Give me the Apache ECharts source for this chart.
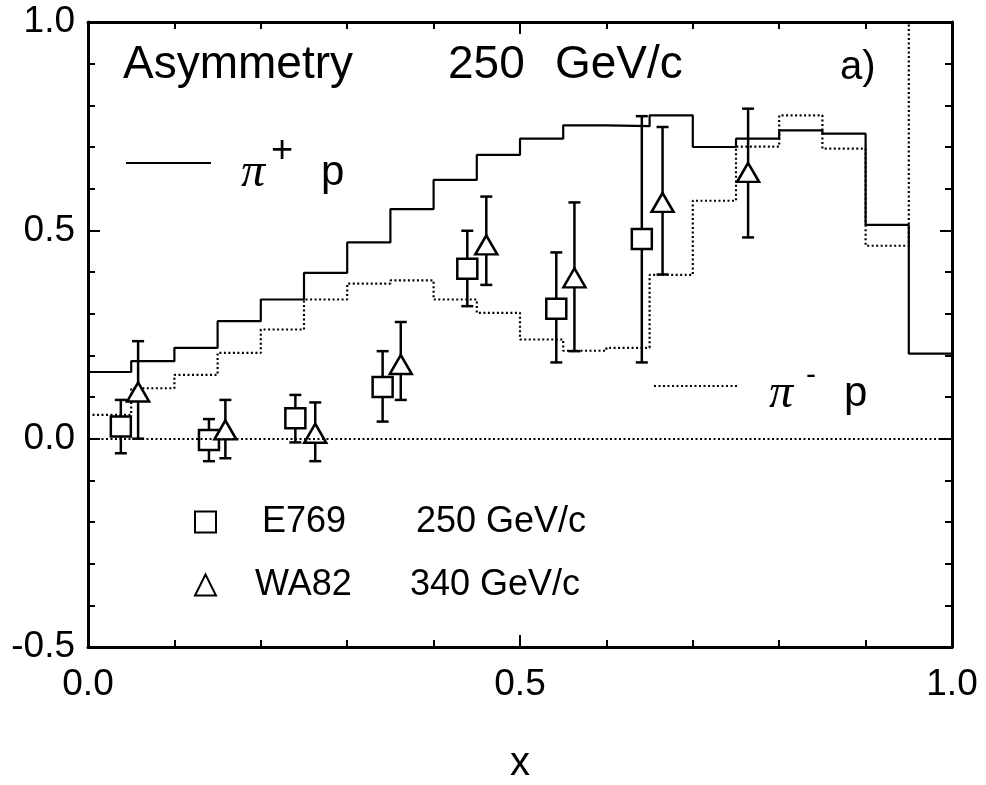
<!DOCTYPE html>
<html><head><meta charset="utf-8">
<script src="https://cdn.jsdelivr.net/npm/echarts@6/dist/echarts.min.js"></script>
<style>html,body{margin:0;padding:0;background:#fff}#c{width:986px;height:785px}</style>
</head><body><div id="c"></div>
<script>
// Histogram bins (left edges, width 0.05)
const binStart = [0,0.05,0.10,0.15,0.20,0.25,0.30,0.35,0.40,0.45,0.50,0.55,0.60,0.65,0.70,0.75,0.80,0.85,0.90,0.95];
const binEnd = 1.0;
const piPlusP  = [0.160,0.186,0.218,0.282,0.334,0.398,0.471,0.551,0.621,0.681,0.720,0.752,0.750,0.776,0.700,0.720,0.740,0.732,0.513,0.204];
const piMinusP = [0.057,0.121,0.153,0.206,0.262,0.334,0.372,0.380,0.334,0.302,0.238,0.211,0.218,0.393,0.571,0.701,0.776,0.696,0.463,1.000];
// E769 250 GeV/c
const e769X  = [0.038,0.140,0.240,0.341,0.439,0.542,0.641];
const e769Y  = [0.029,-0.003,0.049,0.124,0.408,0.312,0.479];
const e769Lo = [-0.035,-0.054,-0.009,0.041,0.318,0.183,0.183];
const e769Hi = [0.093,0.047,0.105,0.210,0.499,0.447,0.774];
// WA82 340 GeV/c
const wa82X  = [0.058,0.159,0.263,0.362,0.461,0.563,0.665,0.764];
const wa82Y  = [0.112,0.021,0.013,0.178,0.465,0.386,0.567,0.639];
const wa82Lo = [0.000,-0.047,-0.054,0.093,0.369,0.210,0.394,0.483];
const wa82Hi = [0.234,0.093,0.087,0.280,0.581,0.567,0.748,0.792];

const SANS = '"Liberation Sans", Arial, sans-serif';
const SERIF = '"Liberation Serif", "Times New Roman", serif';

function stepData(vals){
  const d = binStart.map((x,i)=>[x, vals[i]]);
  d.push([binEnd, vals[vals.length-1]]);
  return d;
}
function errRender(params, api){
  const x = api.value(0), lo = api.value(1), hi = api.value(2);
  const a = api.coord([x, lo]), b = api.coord([x, hi]);
  const cap = 6;
  const st = {stroke:'#000', lineWidth:2.5, fill:null};
  return {type:'group', children:[
    {type:'line', shape:{x1:a[0],y1:a[1],x2:b[0],y2:b[1]}, style:st},
    {type:'line', shape:{x1:a[0]-cap,y1:a[1],x2:a[0]+cap,y2:a[1]}, style:st},
    {type:'line', shape:{x1:b[0]-cap,y1:b[1],x2:b[0]+cap,y2:b[1]}, style:st}
  ]};
}
const axLine = {show:true, onZero:false, lineStyle:{color:'#000', width:3}};
const tick = {show:true, inside:true, length:12, lineStyle:{color:'#000', width:2}};
const mtick = {show:true, splitNumber:5, length:7, lineStyle:{color:'#000', width:2}};
const lbl = {fontSize:37, color:'#000', fontFamily:SANS, formatter:v=>v.toFixed(1)};
const T = {fontFamily:SANS, color:'#000', fontWeight:'normal'};

const chart = echarts.init(document.getElementById('c'), null, {renderer:'canvas'});
chart.setOption({
  animation:false,
  backgroundColor:'#fff',
  grid:{left:88, right:34, top:22, bottom:138, containLabel:false, outerBoundsMode:'none'},
  title:[
    {text:'{a|Asymmetry}{b|250}{c|GeV/c}', left:123, top:42, padding:0,
     textStyle:Object.assign({fontSize:46, lineHeight:46, rich:{
       a:Object.assign({fontSize:46, width:325, lineHeight:46}, T),
       b:Object.assign({fontSize:46, width:107, lineHeight:46}, T),
       c:Object.assign({fontSize:46, lineHeight:46}, T)}}, T)},
    {text:'a)', left:840, top:48, padding:0, textStyle:Object.assign({fontSize:40, lineHeight:40}, T)}
  ],
  xAxis:[
    {type:'value', min:0, max:1, interval:0.5, position:'bottom', axisLine:axLine, axisTick:tick, minorTick:mtick,
     splitLine:{show:false}, minorSplitLine:{show:false}, axisLabel:Object.assign({margin:19}, lbl),
     name:'x', nameLocation:'middle', nameGap:97, nameTextStyle:{fontSize:40, fontFamily:SANS, color:'#000'}},
    {type:'value', min:0, max:1, interval:0.5, position:'top', axisLine:axLine, axisTick:tick, minorTick:mtick,
     splitLine:{show:false}, axisLabel:{show:false}}
  ],
  yAxis:[
    {type:'value', min:-0.5, max:1, interval:0.5, position:'left', axisLine:axLine, axisTick:tick, minorTick:mtick,
     splitLine:{show:false}, axisLabel:Object.assign({margin:13}, lbl)},
    {type:'value', min:-0.5, max:1, interval:0.5, position:'right', axisLine:axLine, axisTick:tick, minorTick:mtick,
     splitLine:{show:false}, axisLabel:{show:false}}
  ],
  legend:[
    {data:[{name:'E769', icon:'rect'},{name:'WA82', icon:'triangle'}], orient:'vertical', left:194, top:504, padding:0,
     itemWidth:21, itemHeight:21, itemGap:27, selectedMode:false,
     formatter:n=> n==='E769' ? '{a|E769}{b|250 GeV/c}' : '{c|WA82}{b|340 GeV/c}',
     textStyle:{fontSize:36, fontFamily:SANS, color:'#000', rich:{
       a:{fontSize:36, fontFamily:SANS, color:'#000', width:154, padding:[0,0,0,41]},
       c:{fontSize:36, fontFamily:SANS, color:'#000', width:155, padding:[0,0,0,34]},
       b:{fontSize:36, fontFamily:SANS, color:'#000'}}}},
    {data:['π+ p'], left:125, top:129, padding:0, itemWidth:85, itemHeight:2, selectedMode:false,
     itemStyle:{opacity:0},
     formatter:()=>'{pi|π}{sp|+}{p|p}',
     textStyle:{rich:{
       pi:{fontFamily:SERIF, fontStyle:'italic', fontSize:48, color:'#000', width:30, padding:[20,0,0,25], lineHeight:50},
       sp:{fontFamily:SANS, fontSize:38, color:'#000', width:50, verticalAlign:'top', lineHeight:60},
       p:{fontFamily:SANS, fontSize:42, color:'#000', padding:[20,0,0,0], lineHeight:50}}}},
    {data:['π- p'], left:653, top:354, padding:0, itemWidth:84, itemHeight:2, selectedMode:false,
     itemStyle:{opacity:0},
     formatter:()=>'{pi|π}{sp|-}{p|p}',
     textStyle:{rich:{
       pi:{fontFamily:SERIF, fontStyle:'italic', fontSize:48, color:'#000', width:37, padding:[16,0,0,26], lineHeight:50},
       sp:{fontFamily:SANS, fontSize:30, color:'#000', width:38, verticalAlign:'top', lineHeight:39},
       p:{fontFamily:SANS, fontSize:42, color:'#000', padding:[16,0,0,0], lineHeight:50}}}}
  ],
  series:[
    {name:'π+ p', type:'line', step:'end', symbol:'none', data:stepData(piPlusP),
     lineStyle:{color:'#000', width:2.2}, itemStyle:{color:'#000'}, z:2},
    {name:'π- p', type:'line', step:'end', symbol:'none', data:stepData(piMinusP),
     lineStyle:{color:'#000', width:2.2, type:[2,2.5]}, itemStyle:{color:'#000'}, z:2,
     markLine:{silent:true, symbol:'none', label:{show:false}, data:[{yAxis:0}],
       lineStyle:{color:'#000', width:2.2, type:[2,2.5]}}},
    {name:'E769 err', type:'custom', renderItem:errRender, encode:{x:0, y:[1,2]},
     data:e769X.map((x,i)=>[x, e769Lo[i], e769Hi[i]]), z:3},
    {name:'WA82 err', type:'custom', renderItem:errRender, encode:{x:0, y:[1,2]},
     data:wa82X.map((x,i)=>[x, wa82Lo[i], wa82Hi[i]]), z:3},
    {name:'E769', type:'scatter', symbol:'rect', symbolSize:[20,20],
     data:e769X.map((x,i)=>[x, e769Y[i]]),
     itemStyle:{color:'#fff', borderColor:'#000', borderWidth:2.5, opacity:1}, z:4},
    {name:'WA82', type:'scatter', symbol:'triangle', symbolSize:[22,19],
     data:wa82X.map((x,i)=>[x, wa82Y[i]]),
     itemStyle:{color:'#fff', borderColor:'#000', borderWidth:2.5, opacity:1}, z:4}
  ]
});
</script></body></html>
